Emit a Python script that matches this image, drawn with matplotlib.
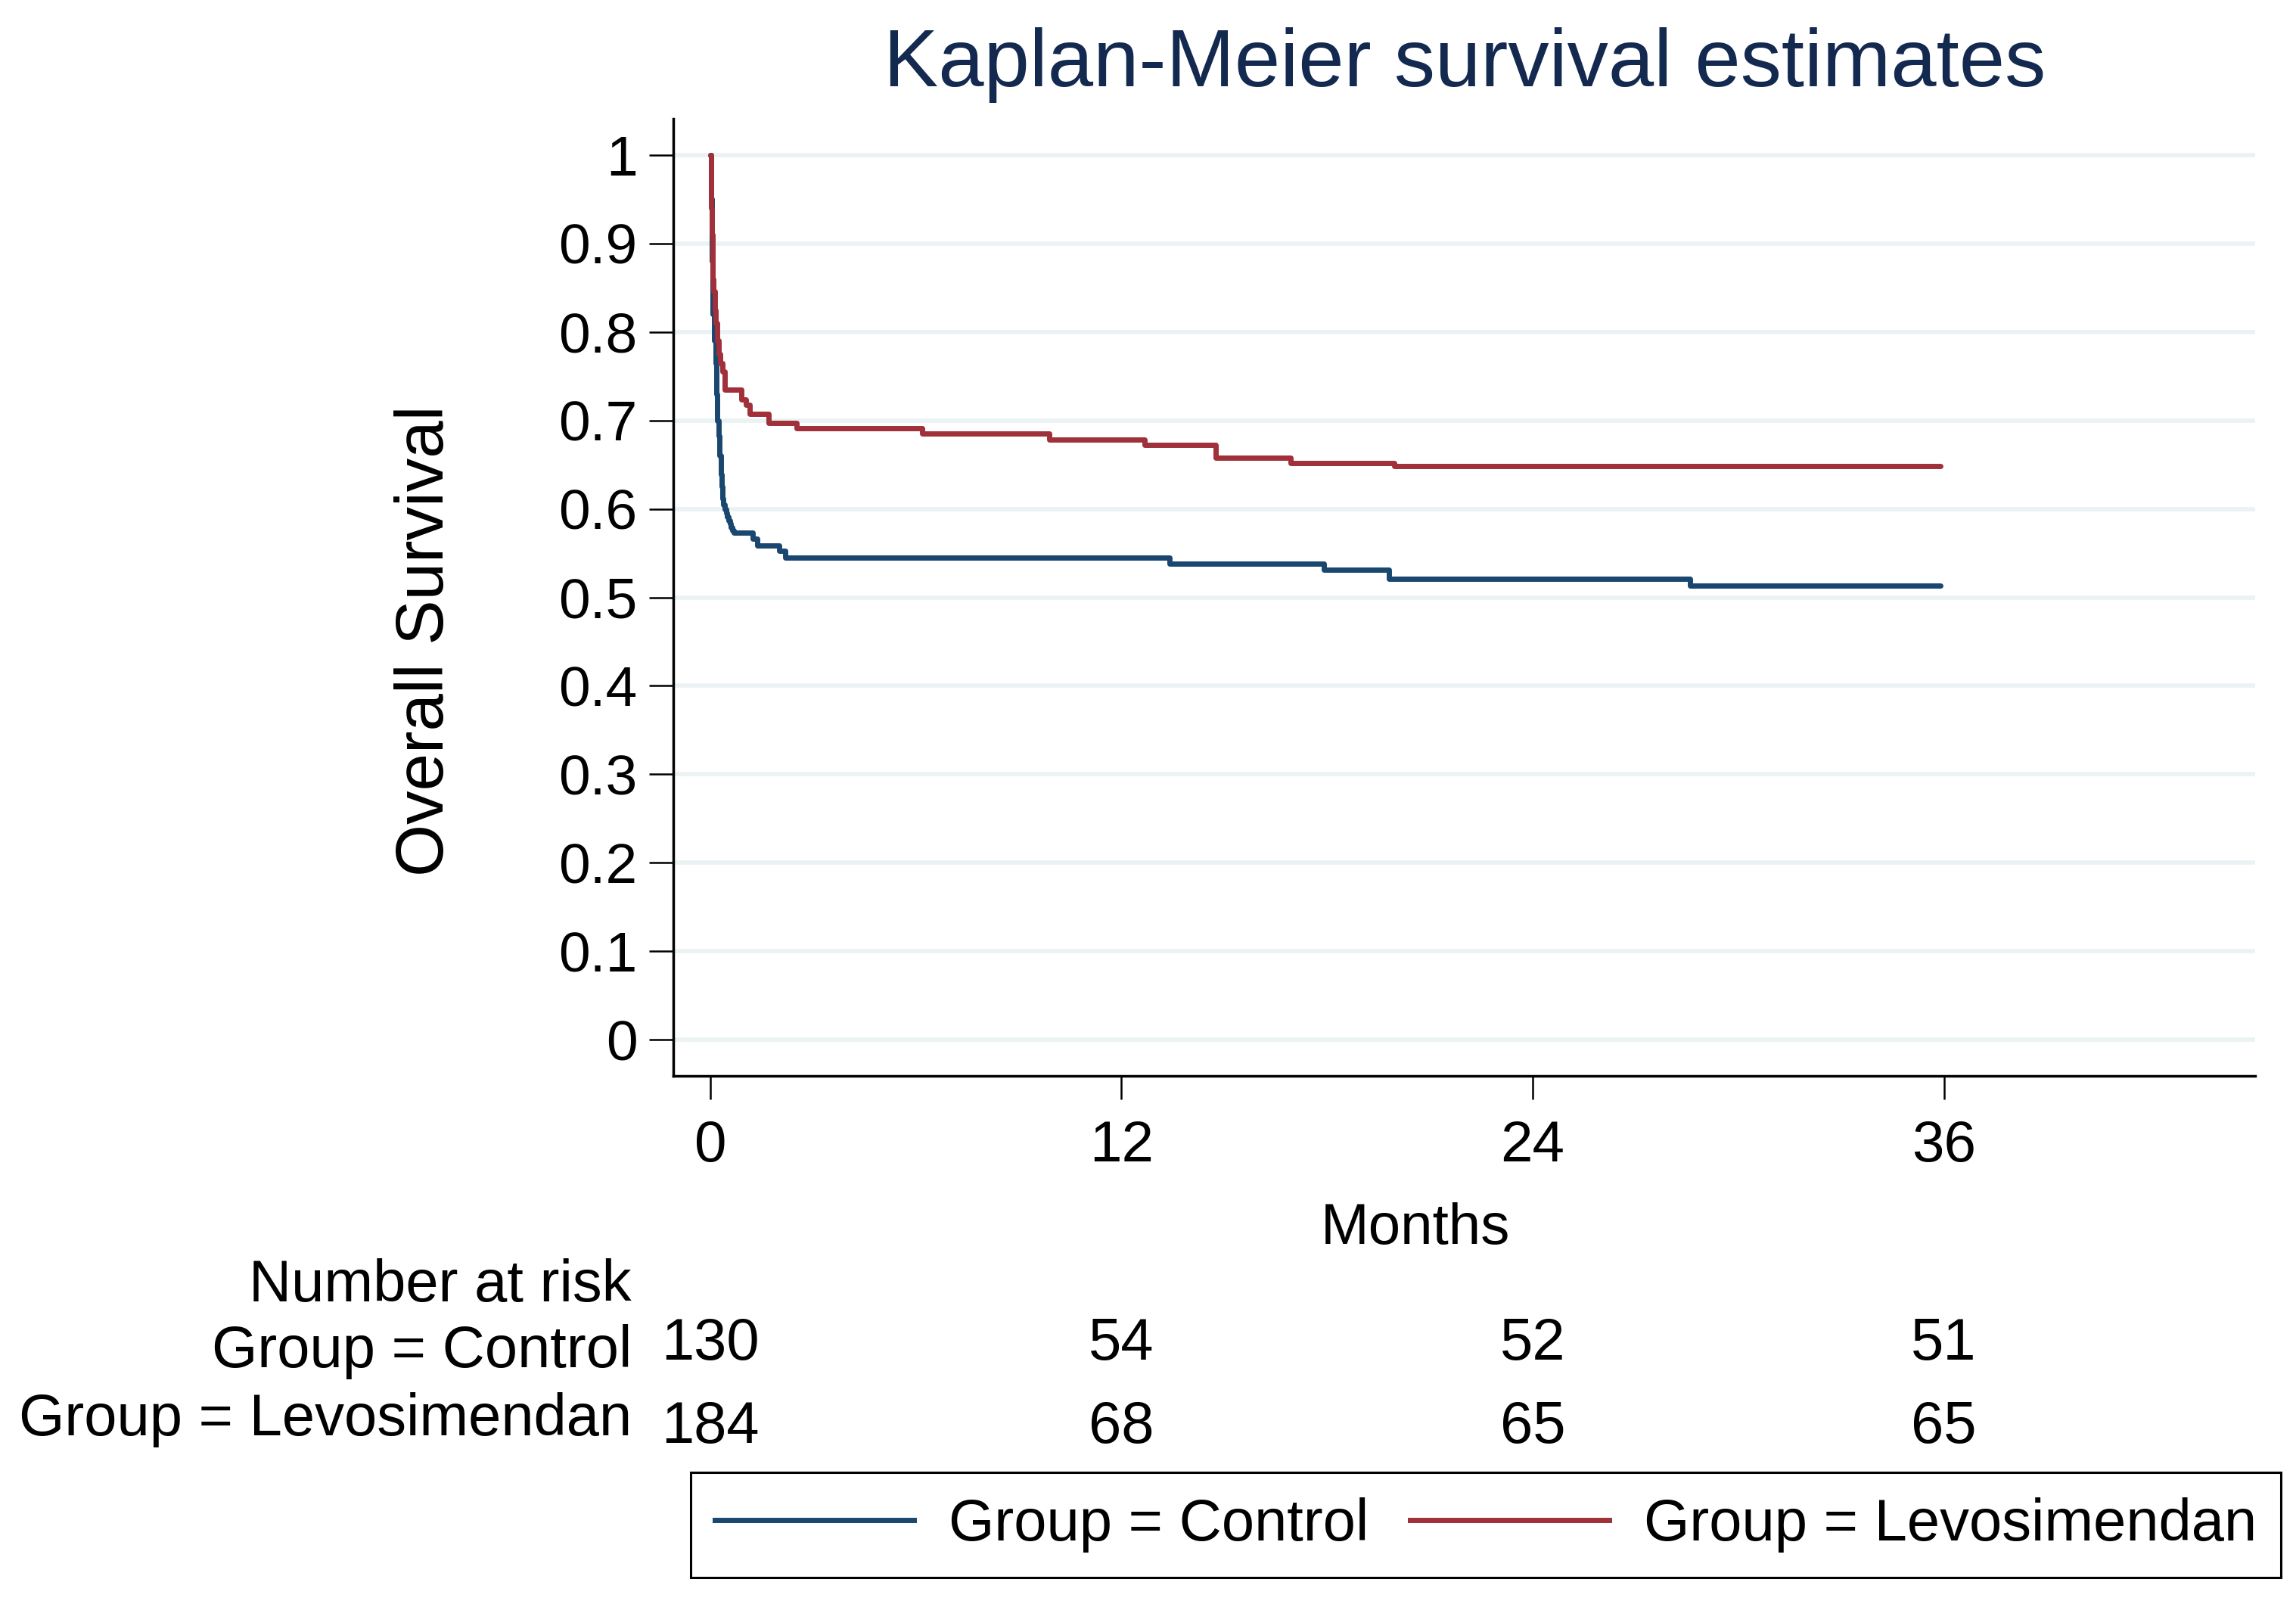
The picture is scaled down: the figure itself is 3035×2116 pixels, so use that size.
import numpy as np
import matplotlib
matplotlib.use("Agg")
from matplotlib import pyplot as plt
from matplotlib.lines import Line2D
from matplotlib.transforms import blended_transform_factory

plt.rcParams['font.family'] = ['Liberation Sans', 'DejaVu Sans']

# Kaplan-Meier steps (months, survival)
t_control = [0, 0.02, 0.05, 0.08, 0.11, 0.15, 0.18, 0.21, 0.25, 0.28, 0.31, 0.33,
             0.36, 0.39, 0.43, 0.46, 0.50, 0.54, 0.58, 0.61, 0.65, 0.68, 1.24, 1.38,
             2.01, 2.19, 13.4, 17.9, 19.8, 28.6, 35.9]
s_control = [1, 0.95, 0.88, 0.82, 0.79, 0.765, 0.73, 0.70, 0.683, 0.66, 0.639, 0.625,
             0.612, 0.605, 0.60, 0.595, 0.591, 0.587, 0.583, 0.579, 0.576, 0.573, 0.566, 0.559,
             0.553, 0.545, 0.538, 0.531, 0.521, 0.513, 0.513]

t_levo = [0, 0.02, 0.04, 0.06, 0.08, 0.10, 0.14, 0.17, 0.21, 0.24, 0.30, 0.35, 0.43,
          0.90, 1.05, 1.16, 1.71, 2.52, 6.19, 9.90, 12.68, 14.74, 16.93, 19.97, 35.9]
s_levo = [1, 0.94, 0.91, 0.88, 0.86, 0.846, 0.825, 0.81, 0.79, 0.775, 0.765, 0.755, 0.735,
          0.724, 0.718, 0.707, 0.697, 0.691, 0.685, 0.678, 0.672, 0.658, 0.652, 0.648, 0.648]

risk_times = [0, 12, 24, 36]
risk_control = [130, 54, 52, 51]
risk_levo = [184, 68, 65, 65]

labels = ["Group = Control", "Group = Levosimendan"]
col_control = "#1a476f"
col_levo = "#a0303a"

fig = plt.figure(figsize=(30.35, 21.16), dpi=100)
ax = fig.add_axes([0.2932, 0.3282, 0.9822 - 0.2932, 0.9258 - 0.3282])

ax.step(t_control, s_control, where='post', color=col_control, lw=5, solid_capstyle='round')
ax.step(t_levo, s_levo, where='post', color=col_levo, lw=5, solid_capstyle='round')

ax.set_xlim(-1.08, 45.08)
ax.set_ylim(-0.0406, 1.041)
ax.set_xticks(risk_times)
yt = np.round(np.arange(0, 1.01, 0.1), 1)
ax.set_yticks(yt)
ax.set_yticklabels(["%g" % v for v in yt])
ax.grid(axis='y', color="#eaf2f3", lw=4)
ax.set_axisbelow(True)

for s in ['top', 'right']:
    ax.spines[s].set_visible(False)
for s in ['left', 'bottom']:
    ax.spines[s].set_linewidth(2.5)
ax.tick_params(axis='y', length=23, width=1.8, pad=11, labelsize=54)
ax.tick_params(axis='x', length=22, width=1.8, pad=20, labelsize=55)

fig.text(0.638, 0.946, "Kaplan-Meier survival estimates", ha='center', va='baseline',
         fontsize=78, color="#13294f")
fig.text(0.6165, 0.223, "Months", ha='center', va='baseline', fontsize=55)
fig.text(0.1856, 0.5997, "Overall Survival", ha='center', va='center', rotation=90, fontsize=64)

# number at risk table
fig.text(0.2751, 0.1871, "Number at risk", ha='right', va='baseline', fontsize=56)
fig.text(0.2751, 0.1462, labels[0], ha='right', va='baseline', fontsize=56)
fig.text(0.2751, 0.1036, labels[1], ha='right', va='baseline', fontsize=56)
tr = blended_transform_factory(ax.transData, fig.transFigure)
for x, a, b in zip(risk_times, risk_control, risk_levo):
    ax.text(x, 0.1509, str(a), transform=tr, ha='center', va='baseline', fontsize=56, clip_on=False)
    ax.text(x, 0.0989, str(b), transform=tr, ha='center', va='baseline', fontsize=56, clip_on=False)

handles = [Line2D([], [], color=col_control, lw=5),
           Line2D([], [], color=col_levo, lw=5)]
leg = fig.legend(handles, labels, loc='center', bbox_to_anchor=(0.6471, 0.0475), ncol=2,
                 fontsize=56, frameon=True, fancybox=False, edgecolor='black',
                 handlelength=3.38, handletextpad=0.59, columnspacing=0.70, borderpad=0.42)
leg.get_frame().set_linewidth(2.2)
leg.get_frame().set_alpha(1)

fig.savefig("out.png", dpi=100)
